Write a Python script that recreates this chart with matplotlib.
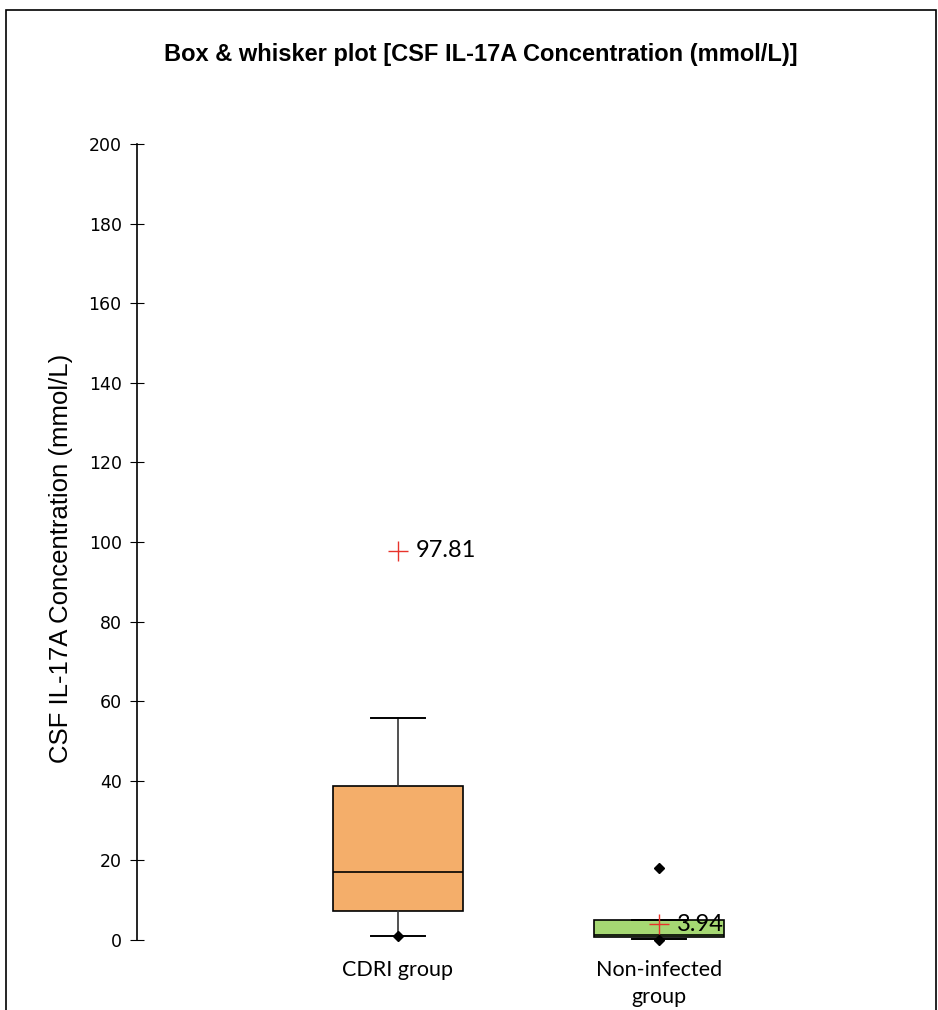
import matplotlib
matplotlib.use("Agg")
import matplotlib.pyplot as plt
from matplotlib.patches import Rectangle

# Donnees
groupes = ["CDRI group", "Non-infected\ngroup"]
q1 = [7.3, 0.8]
mediane = [17.1, 1.3]
q3 = [38.8, 5.0]
moustache_bas = [1.0, 0.25]
moustache_haut = [55.8, 5.0]
moyenne = [97.81, 3.94]
points_min = [1.0, 0.1]
points_max = [None, 18.1]
couleurs = ["#f4ae6a", "#a6d873"]

fig = plt.figure(figsize=(9.38, 10.10), dpi=100)
ax = fig.add_axes([137 / 938, 1 - 940 / 1010, 783 / 938, 796 / 1010])

stats = []
for i, g in enumerate(groupes):
    stats.append(dict(label=g, q1=q1[i], med=mediane[i], q3=q3[i],
                      whislo=moustache_bas[i], whishi=moustache_haut[i],
                      fliers=[]))

pos = [1, 2]
bp = ax.bxp(stats, positions=pos, widths=0.5, patch_artist=True,
            showfliers=False, manage_ticks=False,
            boxprops=dict(edgecolor="black", linewidth=1.2),
            medianprops=dict(color="black", linewidth=1.2),
            whiskerprops=dict(color="#333333", linewidth=1.2),
            capprops=dict(color="black", linewidth=1.4), capwidths=0.21)
for p, c in zip(bp["boxes"], couleurs):
    p.set_facecolor(c)

# min / max
for x, v in zip(pos, points_min):
    if v is not None:
        ax.plot(x, v, marker="D", color="black", markersize=5, clip_on=False, zorder=5)
for x, v in zip(pos, points_max):
    if v is not None:
        ax.plot(x, v, marker="D", color="black", markersize=5, clip_on=False, zorder=5)

# moyennes
for x, m in zip(pos, moyenne):
    ax.plot(x, m, marker="+", color="#e8332b", markersize=14, mew=1.0, zorder=6)
    ax.text(x + 0.068, m, f"{m:.2f}", fontsize=17, va="center", ha="left",
            family="Lato", zorder=7)

ax.set_xlim(0, 3)
ax.set_ylim(0, 200)
ax.set_yticks(range(0, 201, 20))
ax.tick_params(axis="y", direction="inout", length=10, labelsize=12.5, pad=6)
for lab in ax.get_yticklabels():
    lab.set_family("DejaVu Sans")
ax.spines["top"].set_visible(False)
ax.spines["right"].set_visible(False)
ax.spines["bottom"].set_visible(False)
ax.spines["left"].set_linewidth(1.2)
ax.set_xticks([])
ax.set_ylabel("CSF IL-17A Concentration (mmol/L)", fontsize=18.5,
              family="Liberation Sans")
ax.yaxis.set_label_coords(-0.082, 0.48)

for x, g in zip(pos, groupes):
    ax.text(x, -5, g, ha="center", va="top", fontsize=15.5, family="Lato",
            transform=ax.transData, clip_on=False, linespacing=1.45)

fig.text(481 / 938, 1 - 55 / 1010, "Box & whisker plot [CSF IL-17A Concentration (mmol/L)]",
         ha="center", va="center", fontsize=17, fontweight="bold",
         family="Liberation Sans")

# cadre
fig.patches.append(Rectangle((6 / 938, -0.05), 930 / 938, 1.05 - 10 / 1010,
                             transform=fig.transFigure, fill=False,
                             edgecolor="black", linewidth=1.2))

fig.savefig("out.png", dpi=100)
